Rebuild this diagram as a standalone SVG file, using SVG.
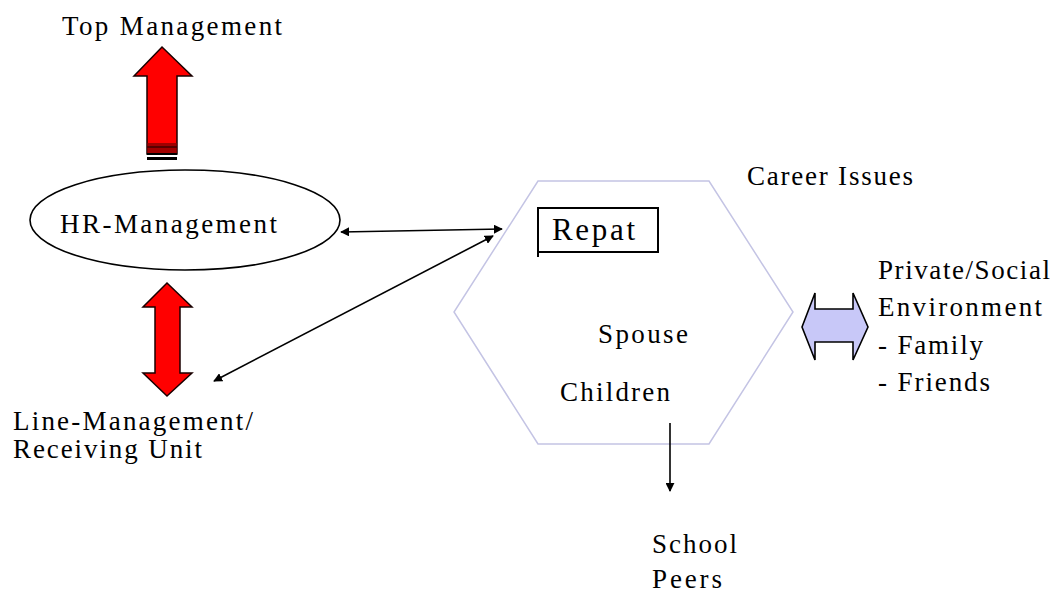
<svg xmlns="http://www.w3.org/2000/svg" width="1056" height="594" viewBox="0 0 1056 594">
<style>
.t{font-family:'Liberation Serif','DejaVu Serif','Times New Roman',serif;font-size:27px;fill:#000}
.red{fill:#ff0000;stroke:#1a0000;stroke-width:1.5;stroke-linejoin:miter}
.ln{stroke:#000;stroke-width:1.6;fill:none}
</style>
<defs>
<marker id="ah" viewBox="0 0 10 10" refX="9" refY="5" markerWidth="9" markerHeight="9" markerUnits="userSpaceOnUse" orient="auto-start-reverse">
<path d="M0,0 L10,5 L0,10 z" fill="#000"/>
</marker>
</defs>
<rect width="1056" height="594" fill="#fff"/>

<g id="top-management">
<text class="t" x="62" y="35" textLength="220" lengthAdjust="spacing" font-family="Liberation Serif, serif">Top Management</text>
</g>

<g id="top-arrow">
<polygon class="red" points="162,47 192,76 177,76 177,154 147,154 147,76 134,76"/>
<rect x="147.5" y="143" width="29" height="10" fill="#a00000"/>
<line x1="147" y1="147" x2="177" y2="147" stroke="#400000" stroke-width="1.5"/>
<line x1="147" y1="154" x2="177" y2="154" stroke="#000" stroke-width="2"/>
<rect x="147" y="157" width="30" height="3" fill="#000"/>
</g>

<g id="hr-management">
<ellipse cx="185" cy="220" rx="155" ry="50" fill="#fff" stroke="#000" stroke-width="1.6"/>
<text class="t" x="60" y="233" textLength="217" lengthAdjust="spacing" font-family="Liberation Serif, serif">HR-Management</text>
</g>

<g id="line-arrow">
<polygon class="red" points="167,283 192,307 180,307 180,373 192,373 167,396 143,373 155,373 155,307 143,307"/>
</g>

<g id="line-management">
<text class="t" x="13" y="430" textLength="240" lengthAdjust="spacing" font-family="Liberation Serif, serif">Line-Management/</text>
<text class="t" x="13" y="458" textLength="189" lengthAdjust="spacing" font-family="Liberation Serif, serif">Receiving Unit</text>
</g>

<g id="repat-hexagon">
<polygon points="538,181 709,181 793,312 709,444 538,444 454,312" fill="none" stroke="#c4c4e4" stroke-width="1.5"/>
<rect x="538" y="208" width="120" height="44" fill="none" stroke="#000" stroke-width="2"/>
<line x1="538" y1="252" x2="538" y2="257" stroke="#000" stroke-width="2"/>
<text class="t" x="552" y="240" style="font-size:31px" textLength="83" lengthAdjust="spacing" font-family="Liberation Serif, serif">Repat</text>
<text class="t" x="598" y="343" textLength="90" lengthAdjust="spacing" font-family="Liberation Serif, serif">Spouse</text>
<text class="t" x="560" y="401" textLength="110" lengthAdjust="spacing" font-family="Liberation Serif, serif">Children</text>
</g>

<g id="career-issues">
<text class="t" x="747" y="185" textLength="166" lengthAdjust="spacing" font-family="Liberation Serif, serif">Career Issues</text>
</g>

<g id="social-arrow">
<polygon points="802,327 815,293 815,309 853,309 853,293 868,327 853,360 853,342 815,342 815,360" fill="#c8c8f8" stroke="#000" stroke-width="1.6" stroke-linejoin="miter"/>
</g>

<g id="private-social">
<text class="t" x="878" y="279" textLength="172" lengthAdjust="spacing" font-family="Liberation Serif, serif">Private/Social</text>
<text class="t" x="878" y="316" textLength="164" lengthAdjust="spacing" font-family="Liberation Serif, serif">Environment</text>
<text class="t" x="878" y="354" textLength="105" lengthAdjust="spacing" font-family="Liberation Serif, serif">- Family</text>
<text class="t" x="878" y="391" textLength="112" lengthAdjust="spacing" font-family="Liberation Serif, serif">- Friends</text>
</g>

<g id="school-peers">
<text class="t" x="652" y="553" textLength="85" lengthAdjust="spacing" font-family="Liberation Serif, serif">School</text>
<text class="t" x="652" y="588" textLength="70" lengthAdjust="spacing" font-family="Liberation Serif, serif">Peers</text>
</g>

<g id="connectors">
<line class="ln" x1="341" y1="232" x2="502" y2="229" marker-start="url(#ah)" marker-end="url(#ah)"/>
<line class="ln" x1="214" y1="381" x2="493" y2="236" marker-start="url(#ah)" marker-end="url(#ah)"/>
<line class="ln" x1="670" y1="423" x2="670" y2="491" marker-end="url(#ah)"/>
</g>
</svg>
